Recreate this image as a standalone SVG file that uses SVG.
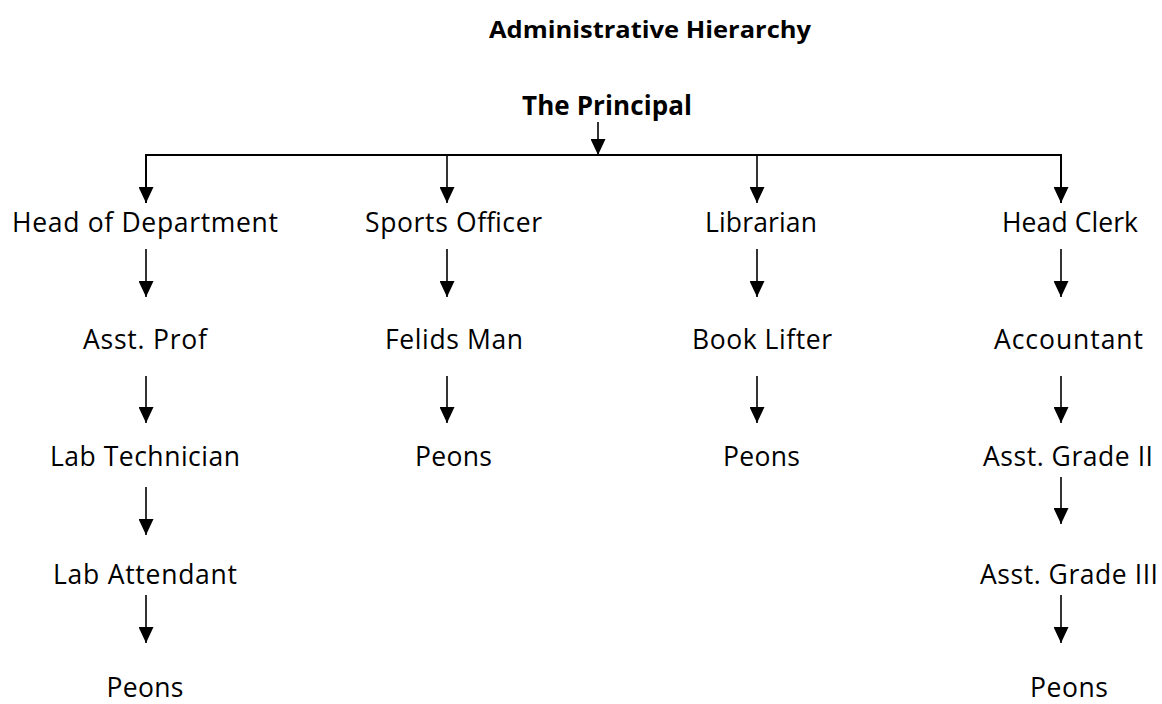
<svg xmlns="http://www.w3.org/2000/svg" width="1162" height="704" viewBox="0 0 1162 704">
<style>
  .t { font-family: "Open Sans", "Liberation Sans", sans-serif; font-size: 26.5px; fill: #000; text-anchor: middle; }
  .b { font-family: "Open Sans", "Liberation Sans", sans-serif; font-weight: bold; fill: #000; text-anchor: middle; }
  .ln { stroke: #000; stroke-width: 1.6; fill: none; }
  .bar { stroke: #000; stroke-width: 2; fill: none; }
</style>
<defs>
  <marker id="ah" markerUnits="userSpaceOnUse" markerWidth="17" markerHeight="15" refX="16" refY="7.5" orient="auto">
    <path d="M0,0 L16,7.5 L0,15 Z" fill="#000"/>
  </marker>
</defs>
<rect width="1162" height="704" fill="#fff"/>
<g id="title"><text class="b" x="650" y="38" font-size="24" textLength="322" lengthAdjust="spacingAndGlyphs">Administrative Hierarchy</text></g>
<g id="principal"><text class="b" x="607" y="115" font-size="26" textLength="170">The Principal</text></g>

<g id="hod"><text class="t" x="145" y="232" textLength="266">Head of Department</text></g>
<g id="asstprof"><text class="t" x="145" y="349" textLength="124">Asst. Prof</text></g>
<g id="labtech"><text class="t" x="145" y="466" textLength="190">Lab Technician</text></g>
<g id="labatt"><text class="t" x="145" y="584" textLength="184">Lab Attendant</text></g>
<g id="peons1"><text class="t" x="145" y="697" textLength="77">Peons</text></g>

<g id="sports"><text class="t" x="453.5" y="232" textLength="177">Sports Officer</text></g>
<g id="felids"><text class="t" x="454" y="349" textLength="138">Felids Man</text></g>
<g id="peons2"><text class="t" x="453.5" y="466" textLength="77">Peons</text></g>

<g id="librarian"><text class="t" x="761" y="232" textLength="112">Librarian</text></g>
<g id="booklifter"><text class="t" x="762" y="349" textLength="140">Book Lifter</text></g>
<g id="peons3"><text class="t" x="761.5" y="466" textLength="77">Peons</text></g>

<g id="headclerk"><text class="t" x="1070" y="232" textLength="136">Head Clerk</text></g>
<g id="accountant"><text class="t" x="1068.5" y="349" textLength="149">Accountant</text></g>
<g id="grade2"><text class="t" x="1068" y="466" textLength="170">Asst. Grade II</text></g>
<g id="grade3"><text class="t" x="1069" y="584" textLength="178">Asst. Grade III</text></g>
<g id="peons4"><text class="t" x="1069" y="697" textLength="78">Peons</text></g>

<g id="connectors">
  <path class="ln" d="M598,122 V155" marker-end="url(#ah)"/>
  <path class="bar" d="M146,203 V155 H1061 V203"/>
  <path class="ln" d="M146,155 V203" marker-end="url(#ah)"/>
  <path class="ln" d="M447,155 V203" marker-end="url(#ah)"/>
  <path class="ln" d="M757,155 V203" marker-end="url(#ah)"/>
  <path class="ln" d="M1061,155 V203" marker-end="url(#ah)"/>

  <path class="ln" d="M146,249 V297" marker-end="url(#ah)"/>
  <path class="ln" d="M146,376 V423" marker-end="url(#ah)"/>
  <path class="ln" d="M146,487 V535" marker-end="url(#ah)"/>
  <path class="ln" d="M146,595 V643" marker-end="url(#ah)"/>

  <path class="ln" d="M447,249 V297" marker-end="url(#ah)"/>
  <path class="ln" d="M447,376 V423" marker-end="url(#ah)"/>

  <path class="ln" d="M757,249 V297" marker-end="url(#ah)"/>
  <path class="ln" d="M757,376 V423" marker-end="url(#ah)"/>

  <path class="ln" d="M1061,249 V297" marker-end="url(#ah)"/>
  <path class="ln" d="M1061,376 V423" marker-end="url(#ah)"/>
  <path class="ln" d="M1061,477 V524" marker-end="url(#ah)"/>
  <path class="ln" d="M1061,595 V643" marker-end="url(#ah)"/>
</g>
</svg>
